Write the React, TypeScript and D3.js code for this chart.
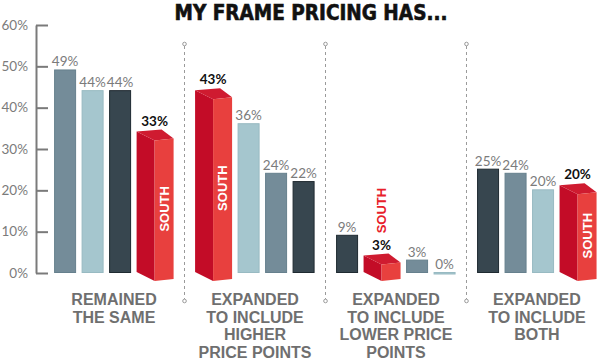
import React, { useEffect, useRef } from 'react'
import * as d3 from 'd3'

// data
const categoryLines = [
  ['REMAINED', 'THE SAME'],
  ['EXPANDED', 'TO INCLUDE', 'HIGHER', 'PRICE POINTS'],
  ['EXPANDED', 'TO INCLUDE', 'LOWER PRICE', 'POINTS'],
  ['EXPANDED', 'TO INCLUDE', 'BOTH'],
]
const seriesNames = ['Region B', 'South', 'Region A', 'Region C']
const regionA = [49, 24, 3, 24]
const regionB = [44, 36, 0, 20]
const regionC = [44, 22, 9, 25]
const south = [33, 43, 3, 20]
const yTicks = [0, 10, 20, 30, 40, 50, 60]

const seriesValues = [regionB, south, regionA, regionC]
const colors: Record<string, string> = {
  'Region A': '#748c99',
  'Region B': '#a5c6ce',
  'Region C': '#37464f',
}
const strokes: Record<string, string> = {
  'Region A': '#66808d',
  'Region B': '#98bac2',
  'Region C': '#1f2a31',
}

const W = 597
const H = 359
const base = 273
const barW = 22
const boxSide = 18
const boxFront = 19
const boxW = boxSide + boxFront
const gap = 5.5
const depthY = 9

const x = d3
  .scaleBand<number>()
  .domain(d3.range(categoryLines.length))
  .range([40, 611])
  .paddingInner(0.15)
  .paddingOuter(0.1)

const y = d3.scaleLinear().domain([0, 60]).range([base, 25])

const groups = categoryLines.map((lines, gi) => {
  const items = seriesNames
    .map((name, si) => ({ name, si, value: seriesValues[si][gi] }))
    .sort((a, b) => b.value - a.value || a.si - b.si)
  let cx = x(gi) as number
  return {
    lines,
    items: items.map((d) => {
      const w = d.name === 'South' ? boxW : barW
      const r = { ...d, x0: cx, w }
      cx += w + gap
      return r
    }),
  }
})

const labelFont = 'Lato, "Open Sans", sans-serif'

const SouthBox = ({ x0, value }: { x0: number; value: number }) => {
  const fx = x0 + boxSide
  const ft = y(value) + 4
  const fb = base + 8
  const tilt = 2
  const front = `M${fx},${ft}L${fx + boxFront},${ft - tilt}L${fx + boxFront},${fb - tilt}L${fx},${fb}Z`
  const side = `M${fx},${ft}L${x0},${ft - depthY}L${x0},${fb - depthY}L${fx},${fb}Z`
  const top = `M${fx},${ft}L${x0},${ft - depthY}L${x0 + boxFront + 6},${ft - depthY - 2}L${fx + boxFront},${ft - tilt}Z`
  const inside = fb - ft > 60
  const cx = fx + boxFront / 2
  return (
    <g>
      <path d={side} fill="#c30c27" />
      <path d={top} fill="#cf1b30" />
      <path d={front} fill="#e8403e" />
      <text
        x={fx}
        y={y(value) - 11}
        textAnchor="middle"
        fontFamily={labelFont}
        fontWeight={700}
        fontSize={13.5}
        fill="#111"
      >
        {value}%
      </text>
      {inside ? (
        <text
          transform={`translate(${cx + 4.5},${(ft + fb) / 2 - 2}) rotate(-90)`}
          textAnchor="middle"
          fontFamily='"Liberation Sans", Arial, sans-serif'
          fontWeight={700}
          fontSize={13}
          fill="#fff"
        >
          SOUTH
        </text>
      ) : (
        <text
          transform={`translate(${fx + 4.5},${y(value) - 50}) rotate(-90)`}
          textAnchor="middle"
          fontFamily='"Liberation Sans", Arial, sans-serif'
          fontWeight={700}
          fontSize={13}
          fill="#e8202a"
        >
          SOUTH
        </text>
      )}
    </g>
  )
}

const App = () => {
  const axisRef = useRef<SVGGElement>(null)

  useEffect(() => {
    const g = d3.select(axisRef.current)
    g.call(
      d3
        .axisLeft(y)
        .tickValues(yTicks)
        .tickSizeInner(-12)
        .tickSizeOuter(0)
        .tickPadding(8)
        .tickFormat((d) => `${d}%`)
    )
    g.selectAll('.domain').attr('stroke', '#7a7a7a').attr('stroke-width', 2)
    g.selectAll('.tick line').attr('stroke', '#7a7a7a').attr('stroke-width', 2)
    g.selectAll('.tick text')
      .attr('fill', '#7b7b7b')
      .attr('font-size', 13.5)
      .attr('font-family', labelFont)
  }, [])

  const seps = d3.range(1, categoryLines.length).map((i) => {
    const prev = x(i - 1) as number
    return (prev + x.bandwidth() + (x(i) as number)) / 2
  })

  return (
    <svg
      width={W}
      height={H}
      style={{ position: 'absolute', left: 0, top: 0, background: '#fff' }}
    >
      <text
        x={311}
        y={19.5}
        textAnchor="middle"
        fontFamily='"Liberation Sans Narrow", "DejaVu Sans Condensed", "Liberation Sans", sans-serif'
        fontWeight={700}
        fontSize={21}
        textLength={273}
        lengthAdjust="spacingAndGlyphs"
        fill="#111"
        stroke="#111"
        strokeWidth={0.6}
      >
        MY FRAME PRICING HAS...
      </text>

      <g ref={axisRef} transform="translate(36,0)" />

      {seps.map((sx, i) => (
        <g key={i} stroke="#9a9a9a">
          <line x1={sx} x2={sx} y1={46} y2={299} strokeDasharray="3,3" />
          <circle cx={sx} cy={44} r={1.8} fill="#fff" />
          <circle cx={sx} cy={301} r={1.8} fill="#fff" />
        </g>
      ))}

      {groups.map((grp, gi) => (
        <g key={gi}>
          {grp.items.map((d) =>
            d.name === 'South' ? (
              <SouthBox key={d.name} x0={d.x0} value={d.value} />
            ) : (
              <g key={d.name}>
                <rect
                  x={d.x0 + 0.5}
                  y={y(d.value) - 0.5}
                  width={d.w - 1}
                  height={Math.max(base - y(d.value), 1.5)}
                  fill={colors[d.name]}
                  stroke={strokes[d.name]}
                  strokeWidth={1}
                />
                <text
                  x={d.x0 + d.w / 2}
                  y={y(d.value) - 4}
                  textAnchor="middle"
                  fontFamily={labelFont}
                  fontSize={13.5}
                  fill="#7b7b7b"
                >
                  {d.value}%
                </text>
              </g>
            )
          )}
          <text
            textAnchor="middle"
            fontFamily='"Liberation Sans", Arial, sans-serif'
            fontWeight={700}
            fontSize={16}
            fill="#6f6f6f"
          >
            {grp.lines.map((line, li) => (
              <tspan
                key={li}
                x={(x(gi) as number) + x.bandwidth() / 2}
                y={305 + li * 17.5}
              >
                {line}
              </tspan>
            ))}
          </text>
        </g>
      ))}
    </svg>
  )
}

export default App
